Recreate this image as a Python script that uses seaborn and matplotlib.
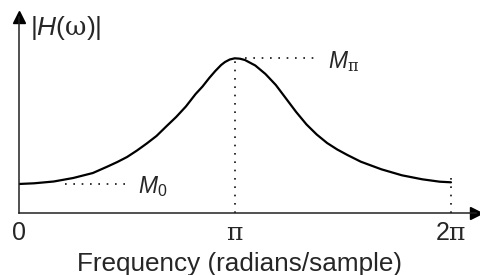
import numpy as np
import pandas as pd
import matplotlib
matplotlib.use("Agg")
import matplotlib.pyplot as plt
import matplotlib.transforms as mtransforms
import seaborn as sns

# ---- data (frequency in units of pi, magnitude in arbitrary units)
freq_over_pi = [0.000, 0.072, 0.163, 0.253, 0.344, 0.412, 0.457, 0.502, 0.548, 0.593,
                0.638, 0.683, 0.729, 0.774, 0.819, 0.851, 0.882, 0.910, 0.937, 0.955,
                0.977, 1.000, 1.024, 1.047, 1.095, 1.142, 1.190, 1.237, 1.284, 1.332,
                1.379, 1.427, 1.474, 1.521, 1.583, 1.678, 1.773, 1.867, 1.948, 2.000]
magnitude = [0.574, 0.588, 0.624, 0.694, 0.794, 0.924, 1.014, 1.114, 1.244, 1.384,
             1.534, 1.724, 1.914, 2.124, 2.374, 2.524, 2.694, 2.834, 2.954, 3.014,
             3.064, 3.088, 3.080, 3.054, 2.944, 2.774, 2.554, 2.284, 2.014, 1.764,
             1.564, 1.394, 1.264, 1.154, 1.020, 0.868, 0.748, 0.668, 0.620, 0.608]
tick_values_over_pi = [0, 1, 2]
tick_labels = [r"$\mathrm{0}$", r"$\mathsf{\pi}$", r"$\mathrm{2}\mathsf{\pi}$"]
y_label = r"$|\mathit{H}(\mathsf{\omega})|$"
m0_label = r"$\mathit{M}_{\mathrm{0}}$"
mpi_label = r"$\mathit{M}_{\mathsf{\pi}}$"
x_label = "Frequency (radians/sample)"

df = pd.DataFrame({"omega": np.array(freq_over_pi) * np.pi, "mag": magnitude})

sns.set_style("white")
plt.rcParams["font.family"] = ["Liberation Sans", "DejaVu Sans"]
plt.rcParams["mathtext.fontset"] = "custom"
plt.rcParams["mathtext.rm"] = "Liberation Sans"
plt.rcParams["mathtext.it"] = "Liberation Sans:italic"
plt.rcParams["mathtext.sf"] = "DejaVu Serif"

W, H = 481, 275
fig = plt.figure(figsize=(W / 100, H / 100), dpi=100)
ax_left, ax_right, ax_bottom, ax_top = 18.5, 476, 212.7, 17
ax = fig.add_axes([ax_left / W, (H - ax_bottom) / H,
                   (ax_right - ax_left) / W, (ax_bottom - ax_top) / H])

px_per_pi = 216.25
px_per_unit = 50.0
ax.set_xlim(0, np.pi * (ax_right - ax_left) / px_per_pi)
ax.set_ylim(0, (ax_bottom - ax_top) / px_per_unit)

sns.lineplot(data=df, x="omega", y="mag", ax=ax, color="black", linewidth=1.6,
             sort=False, estimator=None)

# axes with arrows
for s in ["top", "right"]:
    ax.spines[s].set_visible(False)
for s in ["left", "bottom"]:
    ax.spines[s].set_color("#222222")
    ax.spines[s].set_linewidth(1.1)
ax.plot(1, 0, ">", color="black", markersize=8, transform=ax.get_yaxis_transform(), clip_on=False)
ax.plot(0, 1, "^", color="black", markersize=8, transform=ax.get_xaxis_transform(), clip_on=False)
ax.set_xticks([])
ax.set_yticks([])
ax.set_xlabel("")
ax.set_ylabel("")

m0 = magnitude[0]
mpi = max(magnitude)
dot = dict(color="#111111", linewidth=1.2, linestyle=(0, (1, 4)))
ax.plot([0.213 * np.pi, 0.50 * np.pi], [m0, m0], **dot)
ax.plot([1.046 * np.pi, 1.38 * np.pi], [mpi, mpi], **dot)
ax.plot([np.pi, np.pi], [0, mpi], **dot)
ax.plot([2 * np.pi, 2 * np.pi], [0, 0.76], **dot)

# tick labels (baseline aligned)
trans = mtransforms.blended_transform_factory(ax.transData, fig.transFigure)
for v, lab in zip(tick_values_over_pi, tick_labels):
    ax.text(v * np.pi, (H - 240) / H, lab, transform=trans, ha="center",
            va="baseline", fontsize=18)

ax.text(0.053 * np.pi, 3.554, y_label, fontsize=19, va="baseline", ha="left")
ax.text(0.553 * np.pi, 0.40, m0_label, fontsize=16.5, va="baseline", ha="left")
ax.text(1.43 * np.pi, 2.888, mpi_label, fontsize=16.5, va="baseline", ha="left")

fig.text(240 / W, (H - 270.5) / H, x_label, ha="center", va="baseline", fontsize=18.8)

fig.savefig("out.png", dpi=100)
